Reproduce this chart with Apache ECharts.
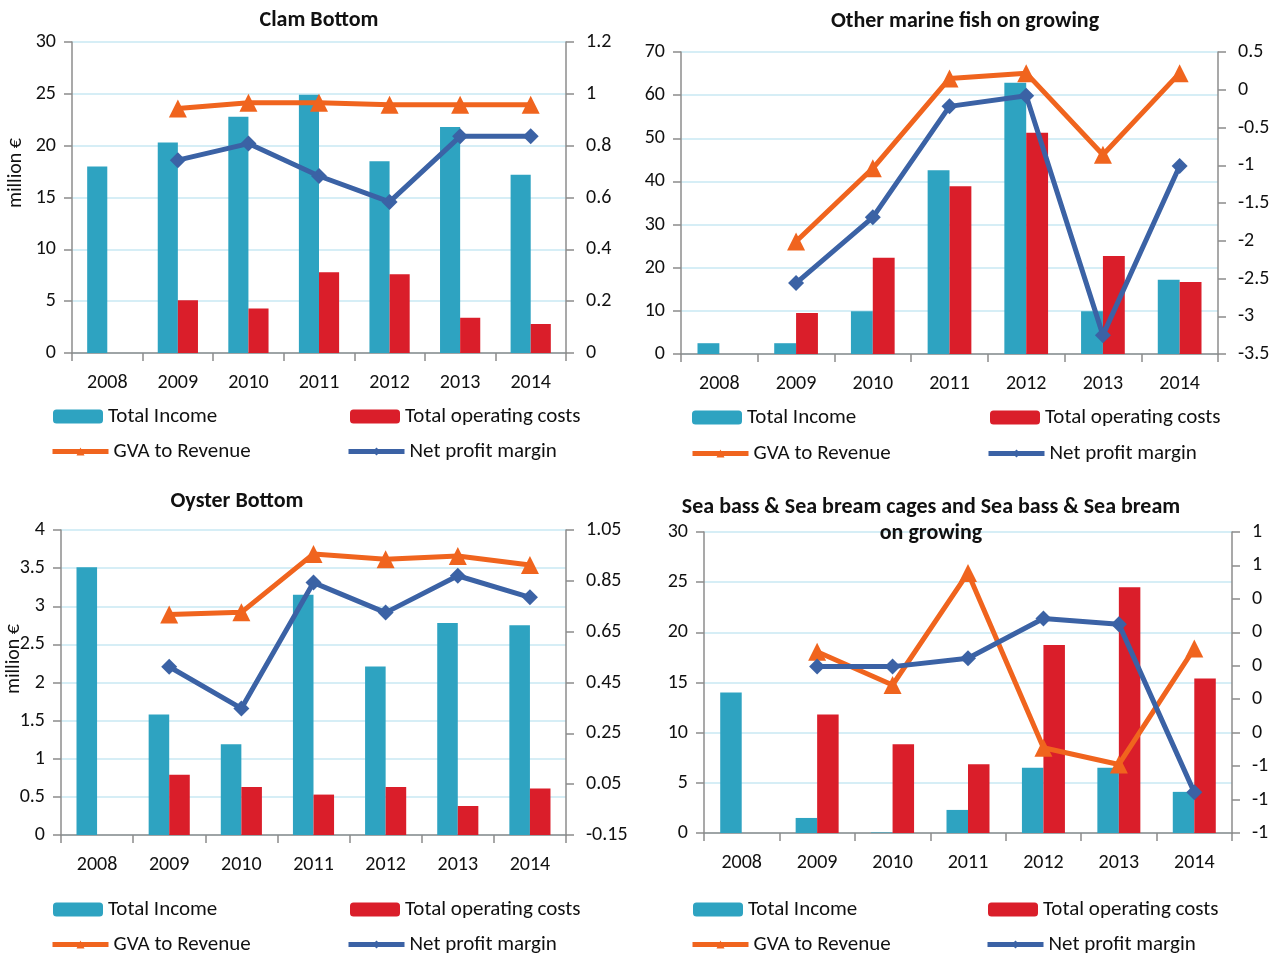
<!DOCTYPE html>
<html><head><meta charset="utf-8">
<script src="https://cdn.jsdelivr.net/npm/echarts@6/dist/echarts.min.js"></script>
<style>html,body{margin:0;padding:0;background:#fff}#c{width:1278px;height:954px}</style>
</head><body><div id="c"></div>
<script>
const years = ['2008','2009','2010','2011','2012','2013','2014'];

// Clam Bottom
const clamIncome = [18.0, 20.3, 22.8, 24.9, 18.5, 21.8, 17.2];
const clamCosts  = [null, 5.1, 4.3, 7.8, 7.6, 3.4, 2.8];
const clamGVA    = [null, 0.943, 0.966, 0.966, 0.958, 0.958, 0.958];
const clamNet    = [null, 0.744, 0.808, 0.683, 0.583, 0.836, 0.836];

// Other marine fish on growing
const omfIncome = [2.5, 2.5, 9.9, 42.6, 62.9, 9.9, 17.2];
const omfCosts  = [null, 9.5, 22.3, 38.9, 51.3, 22.7, 16.7];
const omfGVA    = [null, -2.01, -1.04, 0.15, 0.22, -0.86, 0.22];
const omfNet    = [null, -2.56, -1.69, -0.22, -0.08, -3.25, -1.01];

// Oyster Bottom
const oysIncome = [3.51, 1.58, 1.19, 3.15, 2.21, 2.78, 2.75];
const oysCosts  = [null, 0.79, 0.63, 0.53, 0.63, 0.38, 0.61];
const oysGVA    = [null, 0.718, 0.726, 0.956, 0.935, 0.948, 0.912];
const oysNet    = [null, 0.512, 0.348, 0.843, 0.725, 0.870, 0.785];

// Sea bass & Sea bream
const sbIncome = [14.0, 1.5, 0.05, 2.3, 6.5, 6.5, 4.1];
const sbCosts  = [null, 11.8, 8.85, 6.85, 18.75, 24.5, 15.4];
const sbGVA    = [null, 0.084, -0.115, 0.555, -0.49, -0.59, 0.104];
const sbNet    = [null, -0.005, -0.005, 0.045, 0.283, 0.249, -0.757];

// axis settings
const leftAxes = [
  {min:0, max:30, interval:5},
  {min:0, max:70, interval:10},
  {min:0, max:4, interval:0.5},
  {min:0, max:30, interval:5}
];
const rightAxes = [
  {min:0, max:1.2, interval:0.2},
  {min:-3.5, max:0.5, interval:0.5},
  {min:-0.15, max:1.05, interval:0.2},
  {min:-1, max:0.8, interval:0.2}
];
const titles = ['Clam Bottom','Other marine fish on growing','Oyster Bottom','Sea bass & Sea bream cages and Sea bass & Sea bream\non growing'];
const names = ['Total Income','Total operating costs','GVA to Revenue','Net profit margin'];

const FONT = 'Carlito, Lato, "Liberation Sans", Arial, sans-serif';
const BLUE = '#2EA3C1', RED = '#DA1E2A', ORANGE = '#F0641E', NAVY = '#3B62A5';
const AXIS = '#8C8C8C', GRID = '#D6EEF6';

const grids = [
  {left:72, top:42, width:494, height:311},
  {left:681, top:52, width:537, height:302},
  {left:61, top:530, width:505, height:305},
  {left:704, top:532, width:528, height:301}
];
const titlePos = [[314,2],[960,3],[232,483],[926,489]];
const legendPos = [
  [[53,414],[350,414],[50,449],[346,449]],
  [[692,415],[990,415],[690,451],[986,451]],
  [[53,907],[350,907],[50,942],[346,942]],
  [[693,907],[988,907],[690,942],[985,942]]
];
const data = [
  [clamIncome, clamCosts, clamGVA, clamNet],
  [omfIncome, omfCosts, omfGVA, omfNet],
  [oysIncome, oysCosts, oysGVA, oysNet],
  [sbIncome, sbCosts, sbGVA, sbNet]
];

const option = {
  animation:false,
  textStyle:{fontFamily:FONT},
  grid:grids,
  title:[], legend:[], xAxis:[], yAxis:[], series:[],
  graphic:[
    {type:'text', left:6, top:138, rotation:Math.PI/2, style:{text:'million €', font:'20px '+FONT, fill:'#111'}},
    {type:'text', left:4, top:624, rotation:Math.PI/2, style:{text:'million €', font:'20px '+FONT, fill:'#111'}}
  ]
};

for (let i=0;i<4;i++){
  option.title.push({text:titles[i], left:titlePos[i][0], top:titlePos[i][1], textAlign:'center',
    textStyle:{fontFamily:FONT, fontSize:22, fontWeight:'bold', color:'#111', lineHeight:26}});
  option.xAxis.push({type:'category', gridIndex:i, data:years,
    axisLine:{lineStyle:{color:AXIS, width:1.5}},
    axisTick:{show:true, length:8, lineStyle:{color:AXIS, width:1.5}},
    axisLabel:{fontSize:20, color:'#111', margin:20, fontFamily:FONT}});
  option.yAxis.push({type:'value', gridIndex:i, position:'left', min:leftAxes[i].min, max:leftAxes[i].max, interval:leftAxes[i].interval,
    axisLine:{show:true, lineStyle:{color:AXIS, width:1.5}},
    axisTick:{show:true, length:8, lineStyle:{color:AXIS, width:1.5}},
    splitLine:{show:true, lineStyle:{color:GRID, width:2}},
    axisLabel:{fontSize:20, color:'#111', margin:16, fontFamily:FONT}});
  const r = rightAxes[i];
  option.yAxis.push({type:'value', gridIndex:i, position:'right', min:r.min, max:r.max, interval:r.interval,
    axisLine:{show:true, lineStyle:{color:AXIS, width:1.5}},
    axisTick:{show:true, length:8, lineStyle:{color:AXIS, width:1.5}},
    splitLine:{show:false},
    axisLabel:{fontSize:20, color:'#111', margin:20, fontFamily:FONT,
      formatter: i===3 ? (v)=>{const k=Math.round(v); return k===0?'0':String(k);} : (v)=>String(+v.toFixed(2))}});
  const d = data[i];
  option.series.push({name:names[0], type:'bar', xAxisIndex:i, yAxisIndex:2*i, data:d[0], itemStyle:{color:BLUE}, barGap:'0%', barCategoryGap:'43%'});
  option.series.push({name:names[1], type:'bar', xAxisIndex:i, yAxisIndex:2*i, data:d[1], itemStyle:{color:RED}, barGap:'0%', barCategoryGap:'43%'});
  option.series.push({name:names[2], type:'line', xAxisIndex:i, yAxisIndex:2*i+1, data:d[2], symbol:'triangle', symbolSize:18,
    lineStyle:{color:ORANGE, width:5}, itemStyle:{color:ORANGE}, z:5});
  option.series.push({name:names[3], type:'line', xAxisIndex:i, yAxisIndex:2*i+1, data:d[3], symbol:'diamond', symbolSize:16,
    lineStyle:{color:NAVY, width:5}, itemStyle:{color:NAVY}, z:6});
  for (let k=0;k<4;k++){
    const p = legendPos[i][k];
    const lg = {data:[names[k]], left:p[0], top:p[1]-8, itemWidth:k<2?50:56, itemHeight:k<2?14:10, itemGap:6,
      textStyle:{fontSize:21, color:'#111', fontFamily:FONT, padding:[0,0,0,0]}, padding:0, selectedMode:false};
    if (k>=2) { lg.lineStyle = {width:5}; lg.top = p[1]-8; }
    option.legend.push(lg);
  }
}

const chart = echarts.init(document.getElementById('c'), null, {renderer:'canvas'});
chart.setOption(option);
</script>
</body></html>
